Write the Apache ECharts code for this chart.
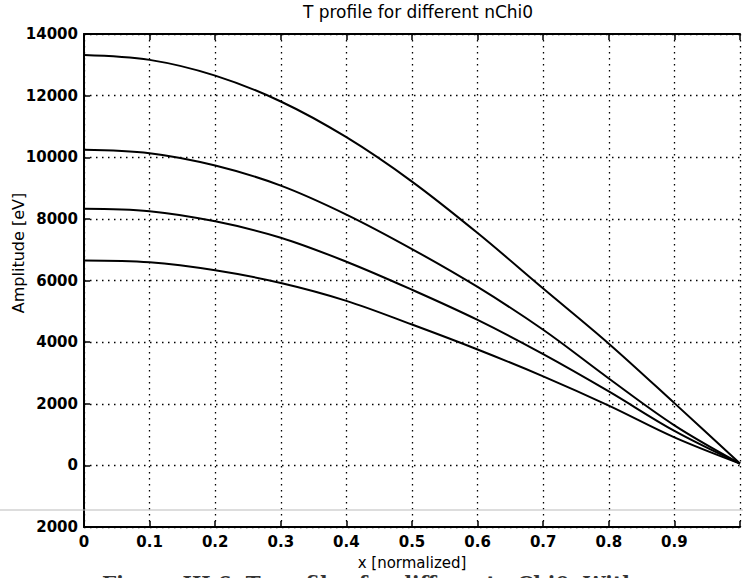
<!DOCTYPE html>
<html>
<head>
<meta charset="utf-8">
<script src="https://cdn.jsdelivr.net/npm/echarts@6/dist/echarts.min.js"></script>
<style>
html,body{margin:0;padding:0;background:#fff;}
#chart{width:743px;height:578px;}
</style>
</head>
<body>
<div id="chart"></div>
<script>
// ---- data ----
var xValues = [0, 0.1, 0.2, 0.3, 0.4, 0.5, 0.6, 0.7, 0.8, 0.9, 1.0];
var curve1 = [13320, 13160, 12650, 11810, 10650, 9210, 7540, 5740, 3950, 2020, 60];
var curve2 = [10240, 10130, 9730, 9080, 8140, 7020, 5790, 4400, 2820, 1300, 60];
var curve3 = [8330, 8250, 7920, 7390, 6610, 5700, 4720, 3610, 2400, 1120, 60];
var curve4 = [6650, 6590, 6330, 5920, 5340, 4570, 3760, 2890, 1940, 910, 60];
var xTickLabels = ['0', '0.1', '0.2', '0.3', '0.4', '0.5', '0.6', '0.7', '0.8', '0.9', ''];
var yTickLabels = ['2000', '0', '2000', '4000', '6000', '8000', '10000', '12000', '14000'];
var titleText = 'T profile for different nChi0';
var xName = 'x [normalized]';
var yName = 'Amplitude [eV]';
var captionText = 'Figure III.6: T profiles for different nChi0. With';

function pairs(ys) { return xValues.map(function (x, i) { return [x, ys[i]]; }); }

var FONT = '"DejaVu Sans", "Liberation Sans", Arial, sans-serif';
var chart = echarts.init(document.getElementById('chart'), null, { renderer: 'svg' });

function lineSeries(ys) {
  return {
    type: 'line', data: pairs(ys), smooth: 0.35, symbol: 'none',
    lineStyle: { color: '#000', width: 2 }, silent: true, z: 5
  };
}

var gridStyle = { show: true, lineStyle: { color: '#000', width: 1.3, type: [1.5, 4.5] } };
var tickStyle = { show: true, inside: true, length: 6, lineStyle: { color: '#000', width: 1.5 } };

chart.setOption({
  animation: false,
  backgroundColor: '#fff',
  title: {
    text: titleText, left: 413, top: -2, textAlign: 'center',
    textStyle: { fontFamily: FONT, fontSize: 17, fontWeight: 'normal', color: '#000' }
  },
  grid: { left: 84, right: 0, top: 34, bottom: 51, containLabel: false },
  xAxis: [{
    type: 'value', min: 0, max: 1, interval: 0.1,
    axisLine: { show: true, onZero: false, lineStyle: { color: '#000', width: 2 } },
    axisTick: tickStyle,
    axisLabel: {
      margin: 7, fontFamily: FONT, fontSize: 15, fontWeight: 'bold', color: '#000',
      formatter: function (v) { return xTickLabels[Math.round(v * 10)]; }
    },
    splitLine: gridStyle,
    name: xName, nameLocation: 'middle', nameGap: 28,
    nameTextStyle: { fontFamily: FONT, fontSize: 15, color: '#000' }
  }, {
    type: 'value', min: 0, max: 1, interval: 0.1, position: 'top',
    axisLine: { show: true, onZero: false, lineStyle: { color: '#000', width: 2 } },
    axisTick: tickStyle,
    axisLabel: { show: false }, splitLine: { show: false }
  }],
  yAxis: {
    type: 'value', min: -2000, max: 14000, interval: 2000,
    axisLine: { show: true, onZero: false, lineStyle: { color: '#000', width: 2 } },
    axisTick: tickStyle,
    axisLabel: {
      margin: 6, fontFamily: FONT, fontSize: 15, fontWeight: 'bold', color: '#000',
      formatter: function (v) { return yTickLabels[Math.round((v + 2000) / 2000)]; }
    },
    splitLine: gridStyle
  },
  graphic: [
    {
      type: 'text', x: 18, y: 253, rotation: Math.PI / 2,
      style: { text: yName, fontFamily: FONT, fontSize: 16, fill: '#000', align: 'center', verticalAlign: 'middle' }
    },
    {
      type: 'line', shape: { x1: 0, y1: 510, x2: 743, y2: 510 },
      style: { stroke: '#bbb', lineWidth: 1 }, z: 1
    },
    {
      type: 'text', x: 102, y: 574,
      style: { text: captionText, fontFamily: '"DejaVu Serif", "Liberation Serif", serif', fontSize: 20, fontWeight: 'bold', fill: '#333', verticalAlign: 'top' }
    }
  ],
  series: [lineSeries(curve1), lineSeries(curve2), lineSeries(curve3), lineSeries(curve4)]
});
</script>
</body>
</html>
